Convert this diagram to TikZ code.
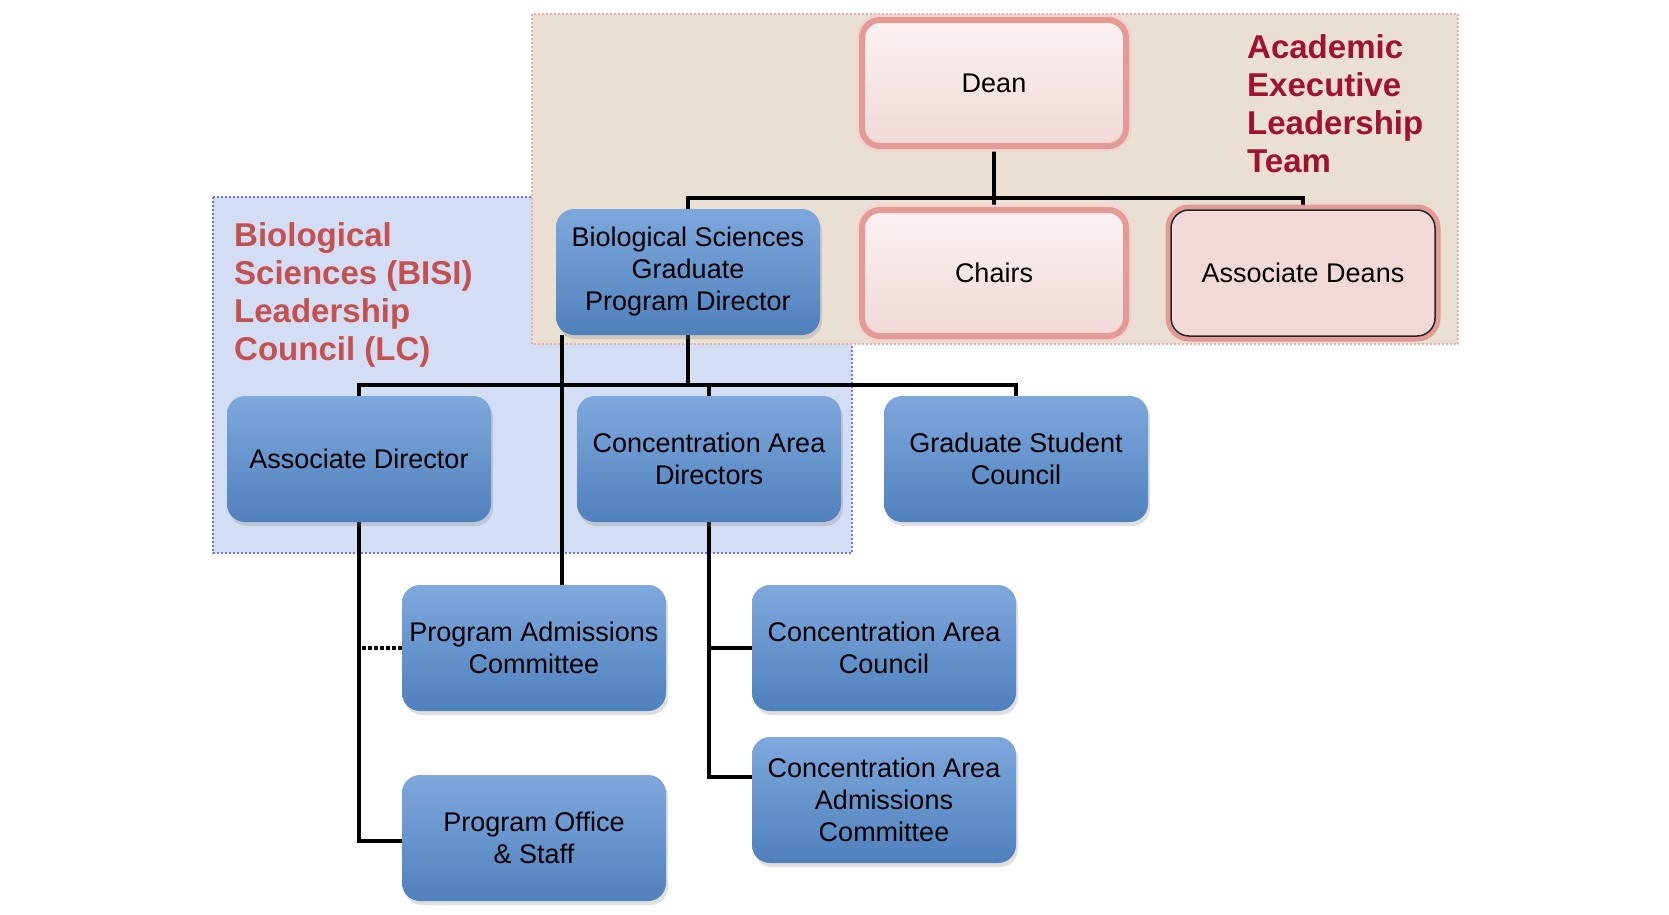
\documentclass[tikz,border=0pt]{standalone}
\usepackage{fontspec}
\setmainfont{Liberation Sans}
\usetikzlibrary{shadows}

\definecolor{boxblue}{HTML}{4F81BD}
\definecolor{boxbluetop}{HTML}{7EA8DC}
\definecolor{boxpink}{HTML}{F1D9D8}
\definecolor{boxpinktop}{HTML}{FCF2F2}
\definecolor{glowred}{HTML}{E49A95}
\definecolor{tanbg}{HTML}{E9DFD2}
\definecolor{lilacbg}{HTML}{D3DDF4}
\definecolor{aeltred}{HTML}{A1122E}
\definecolor{bisired}{HTML}{C4514F}

\pgfdeclarelayer{back}
\pgfdeclarelayer{lines}
\pgfsetlayers{back,lines,main}

\tikzset{
  unit/.style={rounded corners=18pt, minimum width=264pt, minimum height=126pt,
    inner sep=2pt, align=center, font=\fontsize{27}{32}\selectfont},
  bluebox/.style={unit, top color=boxbluetop, bottom color=boxblue,
    drop shadow={shadow xshift=2pt, shadow yshift=-4pt, opacity=.25}},
  pinkbox/.style={unit, top color=boxpinktop, bottom color=boxpink,
    draw=glowred, line width=6pt, preaction={draw=glowred!45, line width=11pt}},
  conn/.style={line width=4pt, black},
  team/.style={anchor=north west, align=left, inner sep=0pt,
    font=\fontsize{33}{38}\selectfont\bfseries},
}

\begin{document}
\begin{tikzpicture}[x=1pt, y=-1pt]
    \useasboundingbox (0,0) rectangle (1669,914);

    % the two teams
    \begin{pgfonlayer}{back}
      \fill[lilacbg] (213,197) rectangle (852,553);
      \draw[line width=2pt, color=blue!55, dotted] (213,197) rectangle (852,553);
      \fill[tanbg] (532,14) rectangle (1458,344);
      \draw[line width=2pt, color=glowred!80, dotted] (532,14) rectangle (1458,344);
    \end{pgfonlayer}

    \node[team, text=aeltred] (aelt) at (1247,34)
        {Academic\\Executive\\Leadership\\Team};
    \node[team, text=bisired] (bisi) at (234,222)
        {Biological\\Sciences (BISI)\\Leadership\\Council (LC)};

    % boxes
    \node[pinkbox] (dean) at (994,83) {Dean};
    \node[pinkbox] (chairs) at (994,273) {Chairs};
    \node[unit, top color=boxpink, bottom color=boxpink, draw=black!85, line width=1.5pt,
          preaction={draw=glowred, line width=11pt}] (assocdeans) at (1303,273) {Associate Deans};
    \node[bluebox] (gpd) at (688,272) {Biological Sciences\\Graduate\\Program Director};

    \node[bluebox] (assocdir) at (359,459) {Associate Director};
    \node[bluebox] (cadir) at (709,459) {Concentration Area\\Directors};
    \node[bluebox] (gsc) at (1016,459) {Graduate Student\\Council};

    \node[bluebox] (pac) at (534,648) {Program Admissions\\Committee};
    \node[bluebox] (pos) at (534,838) {Program Office\\\& Staff};
    \node[bluebox] (cac) at (884,648) {Concentration Area\\Council};
    \node[bluebox] (caac) at (884,800) {Concentration Area\\Admissions\\Committee};

    \coordinate (busA) at (994,198);
    \coordinate (busB) at (688,385);

    % connectors
    \begin{pgfonlayer}{lines}
      \draw[conn] (dean.south) -- (chairs.north);
      \draw[conn] (gpd.north) |- (busA) -| (assocdeans.north);
      \draw[conn] (gpd.south) -- (busB);
      \draw[conn] (assocdir.north) |- (busB) -| (gsc.north);
      \draw[conn] (cadir.north) -- (cadir.north |- busB);
      \draw[conn] ([xshift=6pt]gpd.south west) -- ([xshift=6pt]gpd.south west |- pac.north);
      \draw[conn] (assocdir.south) |- ([yshift=-3pt]pos.west);
      \draw[conn, dotted] (pac.west) -- (pac.west -| assocdir.south);
      \draw[conn] (cadir.south) |- ([yshift=23pt]caac.west);
      \draw[conn] (cadir.south |- cac.west) -- (cac.west);
    \end{pgfonlayer}
\end{tikzpicture}
\end{document}
